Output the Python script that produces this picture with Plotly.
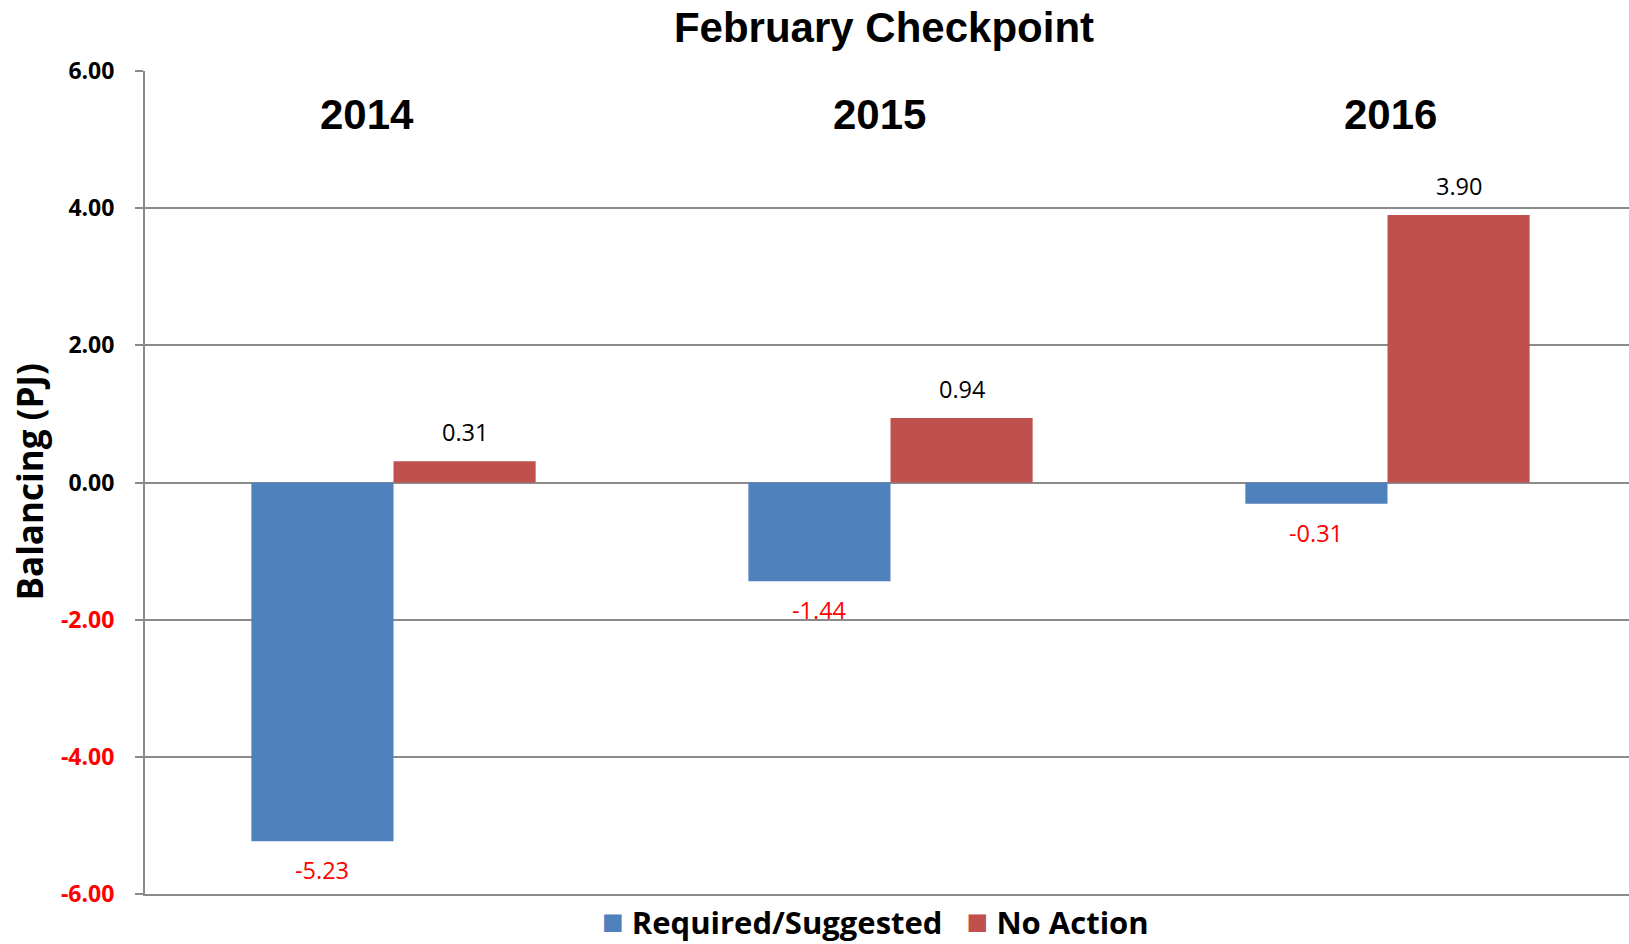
import plotly.graph_objects as go

# ---- data ----
categories = ["2014", "2015", "2016"]
required_suggested = [-5.23, -1.44, -0.31]
no_action = [0.31, 0.94, 3.90]
series_names = ["Required/Suggested", "No Action"]
tick_values = [-6, -4, -2, 0, 2, 4, 6]
year_label_offsets = [-0.053, -0.023, 0.007]  # manually placed year text boxes

# ---- style ----
BLUE = "#4F81BD"
RED = "#C0504D"
GRID = "#8A8A8A"
NEG = "#FF0000"
SANS = "Open Sans"
ARIAL = "Liberation Sans, Arial"
W, H = 1629, 944
L, T, B = 145, 71, 50
BARGAP = 0.428
BAR_W = (1 - BARGAP) / 2
PW, PH = W - L, H - T - B

fig = go.Figure()
fig.add_bar(x=categories, y=required_suggested, name=series_names[0],
            marker=dict(color=BLUE, line=dict(width=0)))
fig.add_bar(x=categories, y=no_action, name=series_names[1],
            marker=dict(color=RED, line=dict(width=0)))

annotations = []
# data labels
for si, vals in enumerate([required_suggested, no_action]):
    off = -BAR_W / 2 if si == 0 else BAR_W / 2
    for i, v in enumerate(vals):
        annotations.append(dict(
            x=i + off, y=v, xref="x", yref="y", text=f"{v:.2f}", showarrow=False,
            yanchor="middle", yshift=29 if v >= 0 else -29,
            font=dict(family=SANS, size=23.5, color="#000000" if v >= 0 else NEG)))
# year labels
for i, c in enumerate(categories):
    annotations.append(dict(
        x=i + year_label_offsets[i], y=5.37, xref="x", yref="y", text=c, showarrow=False,
        yanchor="middle", font=dict(family=ARIAL, size=42, color="#000000", weight="bold")))
# y-axis title
annotations.append(dict(
    x=(29 - L) / PW, y=0.5, xref="paper", yref="paper", text="Balancing (PJ)",
    textangle=-90, showarrow=False, xanchor="center", yanchor="middle",
    font=dict(family=SANS, size=35, color="#000000", weight="bold")))
# legend (custom, as text)
legend_text = (f"<span style='color:{BLUE};font-size:36px'>■</span> {series_names[0]}"
               f"   <span style='color:{RED};font-size:36px'>■</span> {series_names[1]}")
annotations.append(dict(
    x=(875 - L) / PW, y=0, yshift=-(920 - (T + PH)), xref="paper", yref="paper",
    text=legend_text, showarrow=False, xanchor="center", yanchor="middle",
    font=dict(family=SANS, size=31, color="#000000", weight="bold")))

tick_text = []
for t in tick_values:
    s = f"{t:.2f}"
    tick_text.append(f"<span style='color:{NEG}'>{s}</span>" if t < 0 else s)

fig.update_layout(
    width=W, height=H,
    margin=dict(l=L, r=0, t=T, b=B, pad=0),
    paper_bgcolor="white", plot_bgcolor="white",
    barmode="group", bargap=BARGAP, bargroupgap=0,
    showlegend=False,
    title=dict(text="<b>February Checkpoint</b>", x=(884 - L) / PW, xref="paper",
               y=1 - 27 / H, yref="container", xanchor="center", yanchor="middle",
               font=dict(family=ARIAL, size=42, color="#000000")),
    annotations=annotations,
    xaxis=dict(range=[-0.5, -0.5 + PW / 497], showticklabels=False, ticks="",
               showgrid=False, zeroline=False, showline=True, linecolor=GRID, linewidth=2),
    yaxis=dict(range=[-6, 6], tickvals=tick_values, ticktext=tick_text,
               tickfont=dict(family=SANS, size=23, color="#000000", weight="bold"),
               ticks="outside", ticklen=8, tickwidth=2, tickcolor=GRID,
               ticklabelstandoff=16,
               showgrid=True, gridcolor=GRID, gridwidth=1.6,
               zeroline=True, zerolinecolor=GRID, zerolinewidth=1.6,
               showline=True, linecolor=GRID, linewidth=2),
)

fig.write_html("out.html", config={"displayModeBar": False},
               post_script="document.body.style.margin='0';document.body.style.overflow='hidden';")
